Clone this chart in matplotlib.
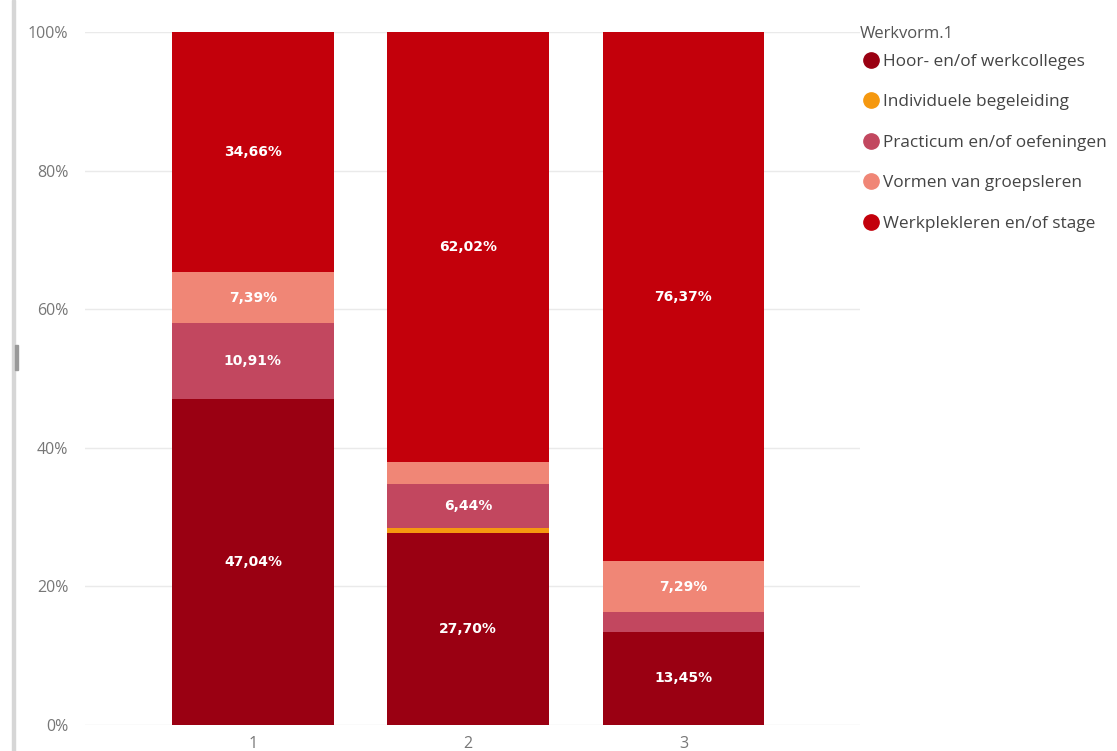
import numpy as np
import matplotlib.pyplot as plt
from matplotlib.lines import Line2D
from matplotlib.patches import Rectangle

categories = ["1", "2", "3"]
series_names = ["Hoor- en/of werkcolleges", "Individuele begeleiding",
                "Practicum en/of oefeningen", "Vormen van groepsleren",
                "Werkplekleren en/of stage"]
hoor = [47.04, 27.70, 13.45]
individueel = [0.0, 0.70, 0.0]
practicum = [10.91, 6.44, 2.89]
groeps = [7.39, 3.14, 7.29]
werkplek = [34.66, 62.02, 76.37]
yticks = [0, 20, 40, 60, 80, 100]

colors = ["#9A0012", "#F5980F", "#C2475F", "#F08676", "#C3000B"]
series = [hoor, individueel, practicum, groeps, werkplek]

fig = plt.figure(figsize=(11.17, 7.51), dpi=100)
ax = fig.add_axes([85 / 1117, 1 - 725 / 751, 775 / 1117, 693 / 751])

x = np.arange(len(categories))
bottom = np.zeros(len(categories))
for vals, col in zip(series, colors):
    vals = np.array(vals)
    ax.bar(x, vals, bottom=bottom, width=0.75, color=col, zorder=2)
    for xi, b, v in zip(x, bottom, vals):
        if v > 5:
            ax.text(xi, b + v / 2, f"{v:.2f}%".replace(".", ","), ha="center", va="center",
                    color="white", fontsize=10, fontweight="bold", family="DejaVu Sans")
    bottom += vals

ax.set_xlim(-0.78, 2.82)
ax.set_ylim(0, 100)
ax.set_xticks(x)
ax.set_xticklabels(categories)
ax.set_yticks(yticks)
ax.set_yticklabels([f"{t}%" for t in yticks])
ax.tick_params(length=0, labelsize=11.5, labelcolor="#777777")
for lab in ax.get_xticklabels() + ax.get_yticklabels():
    lab.set_family("Open Sans")
ax.tick_params(axis="y", pad=12)
ax.tick_params(axis="x", pad=8)
ax.grid(axis="y", color="#EAEAEA", linewidth=1, zorder=0)
for s in ax.spines.values():
    s.set_visible(False)

# legend (title drawn separately to control its gap)
fig.text(860 / 1117, 1 - 34 / 751, "Werkvorm.1", ha="left", va="center",
         fontsize=12, color="#555555", family="Open Sans")
handles = [Line2D([], [], marker="o", linestyle="", markersize=11,
                  markerfacecolor=c, markeredgecolor=c) for c in colors]
leg = fig.legend(handles, series_names, loc="upper left",
                 bbox_to_anchor=(855 / 1117, 1 - 47 / 751), frameon=False,
                 handletextpad=0.25, labelspacing=1.42, borderaxespad=0,
                 handlelength=1.0, prop={"family": "Open Sans", "size": 12.4})
for t in leg.get_texts():
    t.set_color("#444444")

# panel border decoration
fig.patches.append(Rectangle((12 / 1117, 0), 3 / 1117, 1, transform=fig.transFigure,
                             color="#D6D6D6"))
fig.patches.append(Rectangle((15 / 1117, 1 - 370 / 751), 3 / 1117, 25 / 751,
                             transform=fig.transFigure, color="#999999"))

fig.savefig("out.png", dpi=100)
